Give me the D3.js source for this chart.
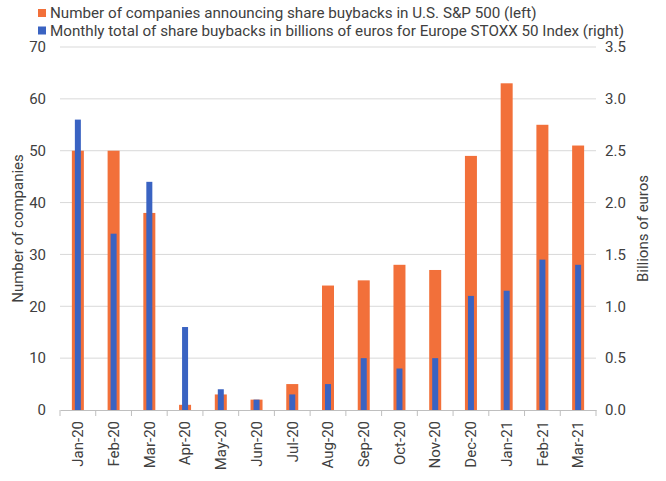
<!DOCTYPE html>
<html>
<head>
<meta charset="utf-8">
<script src="https://cdn.jsdelivr.net/npm/d3@7"></script>
<style>
  body { margin: 0; background: #fff; }
  svg text { font-family: "Roboto", "Noto Sans", sans-serif; fill: #404040; }
</style>
</head>
<body>
<div id="chart"></div>
<script>
// categories and series
const months = ["Jan-20", "Feb-20", "Mar-20", "Apr-20", "May-20", "Jun-20", "Jul-20", "Aug-20",
                "Sep-20", "Oct-20", "Nov-20", "Dec-20", "Jan-21", "Feb-21", "Mar-21"];
const companies = [50, 50, 38, 1, 3, 2, 5, 24, 25, 28, 27, 49, 63, 55, 51];
const buybacksEur = [2.8, 1.7, 2.2, 0.8, 0.2, 0.1, 0.15, 0.25, 0.5, 0.4, 0.5, 1.1, 1.15, 1.45, 1.4];
const leftTicks = [0, 10, 20, 30, 40, 50, 60, 70];
const rightTicks = [0, 0.5, 1.0, 1.5, 2.0, 2.5, 3.0, 3.5];
const legendLabels = [
    "Number of companies announcing share buybacks in U.S. S&P 500 (left)",
    "Monthly total of share buybacks in billions of euros for Europe STOXX 50 Index (right)"
];

const width = 666, height = 481;
const margin = {top: 47, right: 70, bottom: 71, left: 60};
const innerW = width - margin.left - margin.right;
const innerH = height - margin.top - margin.bottom;
const ORANGE = "#f2703a", BLUE = "#3a63c2";

let svg = d3.select("#chart")
    .append("svg")
    .attr("width", width)
    .attr("height", height);

let plot = svg.append("g")
    .attr("transform", `translate(${margin.left}, ${margin.top})`);

let x = d3.scaleBand()
    .domain(months)
    .range([0, innerW]);

let yLeft = d3.scaleLinear().domain([0, 70]).range([innerH, 0]);
let yRight = d3.scaleLinear().domain([0, 3.5]).range([innerH, 0]);

// gridlines
plot.append("g")
    .selectAll("line")
    .data(leftTicks.slice(1))
    .enter()
    .append("line")
    .attr("x1", 0)
    .attr("x2", innerW)
    .attr("y1", d => yLeft(d))
    .attr("y2", d => yLeft(d))
    .attr("stroke", "#d9d9d9")
    .attr("stroke-width", 1);

// left axis labels
let leftAxis = plot.append("g")
    .call(d3.axisLeft(yLeft).tickValues(leftTicks).tickSize(0).tickPadding(14));
leftAxis.select(".domain").remove();
leftAxis.selectAll("text").style("font-size", "15px");

// right axis labels
let rightAxis = plot.append("g")
    .attr("transform", `translate(${innerW}, 0)`)
    .call(d3.axisRight(yRight).tickValues(rightTicks).tickSize(0).tickPadding(9)
        .tickFormat(d3.format(".1f")));
rightAxis.select(".domain").remove();
rightAxis.selectAll("text").style("font-size", "15px");

// orange bars (left scale)
const orangeW = 12, blueW = 6;
plot.append("g")
    .selectAll("rect")
    .data(companies)
    .enter()
    .append("rect")
    .attr("x", (d, i) => x(months[i]) + x.bandwidth() / 2 - orangeW / 2)
    .attr("y", d => yLeft(d))
    .attr("width", orangeW)
    .attr("height", d => innerH - yLeft(d))
    .attr("fill", ORANGE);

// blue bars (right scale)
plot.append("g")
    .selectAll("rect")
    .data(buybacksEur)
    .enter()
    .append("rect")
    .attr("x", (d, i) => x(months[i]) + x.bandwidth() / 2 - blueW / 2)
    .attr("y", d => yRight(d))
    .attr("width", blueW)
    .attr("height", d => innerH - yRight(d))
    .attr("fill", BLUE);

// x axis with ticks between categories
let xAxis = plot.append("g")
    .attr("transform", `translate(0, ${innerH})`)
    .call(d3.axisBottom(x).tickSize(0));
xAxis.select(".domain").attr("stroke", "#bfbfbf");
xAxis.selectAll("text")
    .style("font-size", "15px")
    .attr("transform", "rotate(-90)")
    .attr("dy", "0.35em")
    .attr("x", -11)
    .attr("y", 0)
    .style("text-anchor", "end");

plot.append("g")
    .selectAll("line")
    .data(d3.range(months.length + 1))
    .enter()
    .append("line")
    .attr("x1", i => i * x.bandwidth())
    .attr("x2", i => i * x.bandwidth())
    .attr("y1", innerH)
    .attr("y2", innerH + 6)
    .attr("stroke", "#bfbfbf");

// axis titles
svg.append("text")
    .attr("transform", `translate(23, ${margin.top + innerH / 2}) rotate(-90)`)
    .style("text-anchor", "middle")
    .style("font-size", "15px")
    .text("Number of companies");

svg.append("text")
    .attr("transform", `translate(648, ${margin.top + innerH / 2}) rotate(-90)`)
    .style("text-anchor", "middle")
    .style("font-size", "15px")
    .text("Billions of euros");

// legend
let legend = svg.append("g");
[ORANGE, BLUE].forEach(function(c, i) {
    legend.append("rect")
        .attr("x", 38)
        .attr("y", 9 + i * 17.5)
        .attr("width", 8)
        .attr("height", 8)
        .attr("fill", c);
    legend.append("text")
        .attr("x", 50)
        .attr("y", 13 + i * 17.5)
        .attr("dy", "0.35em")
        .style("font-size", "15.2px")
        .text(legendLabels[i]);
});
</script>
</body>
</html>
